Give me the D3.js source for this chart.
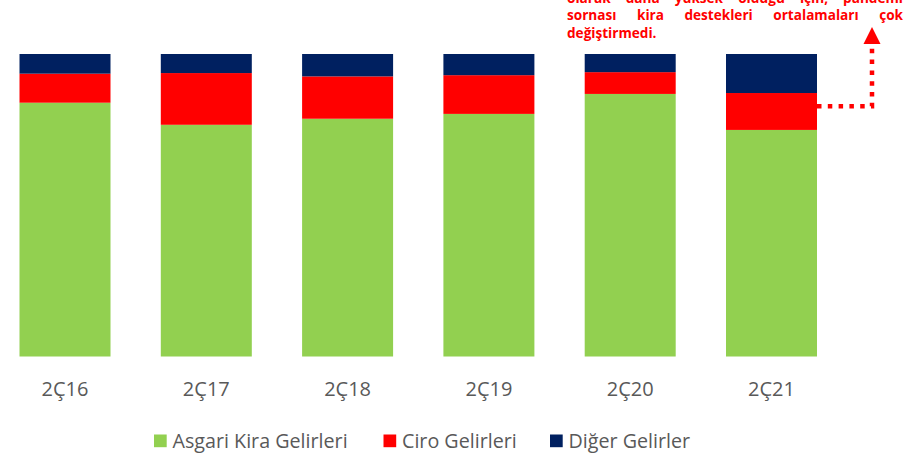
<!DOCTYPE html>
<html><head><meta charset="utf-8">
<script src="https://cdn.jsdelivr.net/npm/d3@7"></script>
<style>
html,body{margin:0;padding:0;background:#fff;}
svg{display:block;}
</style></head>
<body>
<svg id="chart" width="908" height="458"></svg>
<script>
const categories = ["2Ç16","2Ç17","2Ç18","2Ç19","2Ç20","2Ç21"];
const seriesNames = ["Asgari Kira Gelirleri","Ciro Gelirleri","Diğer Gelirler"];
const asgari = [83.9, 76.6, 78.6, 80.2, 86.8, 74.9];
const ciro   = [ 9.6, 17.1, 14.0, 12.8,  7.2, 12.2];
const diger  = [ 6.5,  6.3,  7.4,  7.0,  6.0, 12.9];
const colors = ["#92D050","#FF0000","#002060"];
const noteLines = [
  "olarak daha yüksek olduğu için, pandemi",
  "sornası kira destekleri ortalamaları çok",
  "değiştirmedi."
];

const svg = d3.select("#chart");
const x = d3.scaleBand().domain(categories).range([-5.65, 842.15]).paddingInner(0.356).paddingOuter(0.178);
const y = d3.scaleLinear().domain([0,100]).range([356.5, 54]);

const rows = categories.map((c,i)=>({cat:c, a:asgari[i], b:ciro[i], c2:diger[i]}));
const stack = d3.stack().keys(["a","b","c2"])(rows);

svg.append("g").selectAll("g").data(stack).join("g")
  .attr("fill",(d,i)=>colors[i])
  .selectAll("rect").data(d=>d).join("rect")
  .attr("x",d=>x(d.data.cat))
  .attr("width",x.bandwidth())
  .attr("y",d=>y(d[1]))
  .attr("height",d=>y(d[0])-y(d[1]));

// x axis
const ax = svg.append("g").attr("transform","translate(0,375)")
  .call(d3.axisBottom(x).tickSize(0).tickPadding(0));
ax.select(".domain").remove();
ax.selectAll("text").attr("font-family","'Open Sans', sans-serif").attr("font-size","20px")
  .attr("fill","#595959").attr("dy","0").attr("y",21);

// legend
const legX = [154, 383.5, 550];
const lg = svg.append("g");
seriesNames.forEach((n,i)=>{
  lg.append("rect").attr("x",legX[i]).attr("y",434.5).attr("width",12.7).attr("height",12.7).attr("fill",colors[i]);
  lg.append("text").attr("x",legX[i]+18.5).attr("y",448).attr("font-family","'Open Sans', sans-serif")
    .attr("font-size","19.7px").attr("fill","#595959").text(n);
});

// note text (justified)
const noteLeft = 567, noteRight = 903, noteTop = 2.5, lineH = 17.8;
const ng = svg.append("g").attr("font-family","'Open Sans', sans-serif").attr("font-weight","bold")
  .attr("font-size","13.6px").attr("fill","#FF0000");
noteLines.forEach((line,li)=>{
  const words = line.split(" ");
  const yy = noteTop + li*lineH;
  if (li === noteLines.length-1) {
    ng.append("text").attr("x",noteLeft).attr("y",yy).text(line);
    return;
  }
  const nodes = words.map(w=>ng.append("text").attr("y",yy).text(w));
  const widths = nodes.map(n=>n.node().getComputedTextLength());
  const total = d3.sum(widths);
  const gap = (noteRight-noteLeft-total)/(words.length-1);
  let cx = noteLeft;
  nodes.forEach((n,k)=>{ n.attr("x",cx); cx += widths[k]+gap; });
});

// dotted arrow from last bar's Ciro segment
const idx = categories.length-1;
const last = categories[idx];
const ax0 = x(last)+x.bandwidth();
const redTop = y(asgari[idx]+ciro[idx]);
const redBot = y(asgari[idx]);
const ay = redTop + 0.36*(redBot-redTop);
const arrowX = 872;
svg.append("path")
  .attr("d",`M${ax0},${ay}H${arrowX}V46`)
  .attr("fill","none").attr("stroke","#FF0000").attr("stroke-width",4.5)
  .attr("stroke-dasharray","4.5 6.3");
svg.append("path")
  .attr("d",`M${arrowX-8.5},44L${arrowX},27L${arrowX+8.5},44Z`)
  .attr("fill","#FF0000");
</script>
</body></html>
